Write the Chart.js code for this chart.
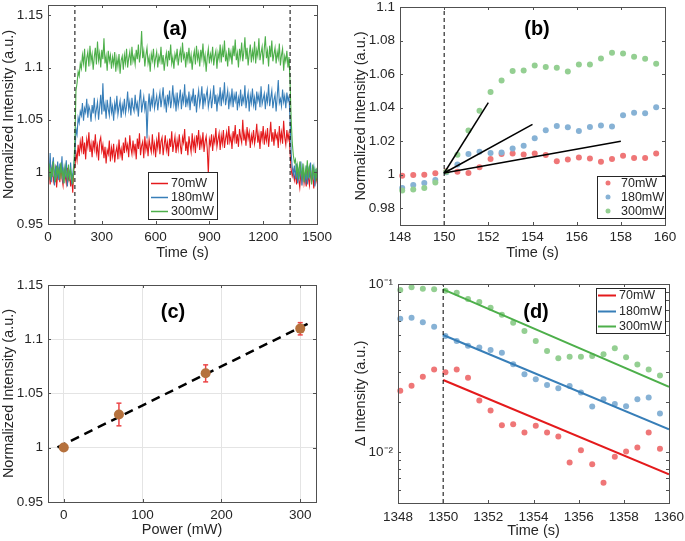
<!DOCTYPE html>
<html>
<head>
<meta charset="utf-8">
<script src="https://cdn.jsdelivr.net/npm/chart.js@4.4.1/dist/chart.umd.min.js"></script>
<style>
  html, body { margin: 0; padding: 0; background: #fff; }
  #figure { position: relative; width: 685px; height: 541px; overflow: hidden; background: #fff; }
  #figure canvas { position: absolute; }
</style>
</head>
<body>
<div id="figure">
  <canvas id="chartA" width="340" height="270" style="left:0;top:0"></canvas>
  <canvas id="chartB" width="345" height="270" style="left:340px;top:0"></canvas>
  <canvas id="chartC" width="340" height="271" style="left:0;top:270px"></canvas>
  <canvas id="chartD" width="345" height="271" style="left:340px;top:270px"></canvas>
</div>
<script>
// ---------- data ----------
const seriesNames = ["70mW", "180mW", "300mW"];

// (a) full traces, one sample every 6 s from 0 to 1500 s
const traceStep = 6;
const laserTimes = [150, 1350];
const trace70 = [
  0.992, 1.004, 0.988, 0.999, 1.006, 0.991, 0.996, 1.003, 0.985, 0.998,
  1.002, 0.990, 1.007, 0.994, 0.987, 1.001, 0.996, 0.989, 1.004, 0.993,
  0.999, 0.986, 0.995, 0.980, 1.003,
  1.004, 1.018, 1.011, 1.026, 1.015, 1.029,
  1.021, 1.034, 1.017, 1.028, 1.012, 1.031, 1.024, 1.038, 1.019, 1.027,
  1.014, 1.030, 1.022, 1.036, 1.018, 1.025, 1.011, 1.029, 1.033, 1.020,
  1.026, 1.013, 1.024, 1.008, 1.021, 1.017, 1.030, 1.010, 1.023, 1.015,
  1.027, 1.009, 1.019, 1.024, 1.012, 1.031, 1.016, 1.022, 1.011, 1.028,
  1.018, 1.033, 1.021, 1.026, 1.014, 1.035, 1.023, 1.017, 1.030, 1.019,
  1.027, 1.012, 1.032, 1.022, 1.037, 1.016, 1.025, 1.029, 1.013, 1.034,
  1.021, 1.028, 1.015, 1.031, 1.024, 1.019, 1.036, 1.020, 1.027, 1.014,
  1.030, 1.023, 1.038, 1.017, 1.029, 1.033, 1.016, 1.026, 1.035, 1.021,
  1.028, 1.015, 1.032, 1.024, 1.039, 1.019, 1.027, 1.034, 1.018, 1.030,
  1.022, 1.036, 1.025, 1.017, 1.033, 1.028, 1.041, 1.020, 1.029, 1.016,
  1.034, 1.026, 1.019, 1.037, 1.023, 1.031, 1.018, 1.035, 1.027, 1.040,
  1.021, 1.032, 1.025, 1.038, 1.019, 1.029, 1.034, 1.022, 0.998, 1.031,
  1.026, 1.036, 1.020, 1.033, 1.028, 1.042, 1.024, 1.031, 1.037, 1.021,
  1.035, 1.027, 1.040, 1.023, 1.032, 1.038, 1.026, 1.044, 1.029, 1.034,
  1.022, 1.039, 1.031, 1.045, 1.027, 1.036, 1.024, 1.041, 1.033, 1.028,
  1.050, 1.030, 1.037, 1.025, 1.043, 1.032, 1.038, 1.023, 1.035, 1.029,
  1.040, 1.027, 1.034, 1.046, 1.028, 1.036, 1.022, 1.039, 1.031, 1.044,
  1.026, 1.037, 1.030, 1.042, 1.024, 1.035, 1.048, 1.029, 1.038, 1.025,
  1.041, 1.032, 1.036, 1.023, 1.044, 1.030, 1.038, 1.027, 1.049, 1.033,
  1.026, 1.040, 1.031, 1.037,
  1.018, 1.002, 0.996, 1.001, 0.992,
  0.998, 0.988, 1.003, 0.993, 0.985, 0.999, 0.991, 1.004, 0.989, 0.996,
  0.986, 1.001, 0.994, 0.987, 1.002, 0.992, 0.997, 0.984, 1.000, 0.990,
  0.995
];
const trace180 = [
  1.012, 0.995, 1.018, 0.990, 1.006, 1.014, 0.987, 1.003, 0.996, 1.010,
  0.992, 1.008, 0.999, 1.015, 0.989, 1.004, 0.997, 1.011, 0.986, 1.002,
  0.994, 1.009, 0.991, 0.998, 1.007,
  1.015, 1.041, 1.036, 1.052, 1.047, 1.058,
  1.054, 1.066, 1.049, 1.061, 1.057, 1.070, 1.052, 1.063, 1.059, 1.048,
  1.064, 1.056, 1.071, 1.053, 1.060, 1.067, 1.050, 1.062, 1.074, 1.055,
  1.085, 1.058, 1.065, 1.051, 1.069, 1.060, 1.054, 1.072, 1.057, 1.063,
  1.049, 1.066, 1.059, 1.073, 1.055, 1.062, 1.068, 1.052, 1.064, 1.058,
  1.070, 1.056, 1.063, 1.077, 1.060, 1.067, 1.054, 1.071, 1.062, 1.058,
  1.074, 1.061, 1.066, 1.053, 1.069, 1.079, 1.057, 1.065, 1.072, 1.060,
  1.068, 1.032, 1.063, 1.075, 1.058, 1.070, 1.064, 1.080, 1.061, 1.067,
  1.073, 1.059, 1.069, 1.076, 1.062, 1.071, 1.081, 1.064, 1.070, 1.057,
  1.074, 1.066, 1.078, 1.061, 1.069, 1.083, 1.065, 1.072, 1.058, 1.076,
  1.063, 1.070, 1.079, 1.060, 1.073, 1.067, 1.084, 1.062, 1.071, 1.065,
  1.077, 1.059, 1.072, 1.068, 1.080, 1.063, 1.074, 1.057, 1.070, 1.078,
  1.064, 1.071, 1.082, 1.060, 1.075, 1.066, 1.073, 1.079, 1.062, 1.069,
  1.076, 1.061, 1.070, 1.083, 1.065, 1.074, 1.058, 1.072, 1.067, 1.081,
  1.063, 1.075, 1.069, 1.086, 1.064, 1.071, 1.078, 1.060, 1.073, 1.066,
  1.080, 1.062, 1.074, 1.068, 1.077, 1.059, 1.071, 1.065, 1.079, 1.063,
  1.072, 1.067, 1.083, 1.061, 1.070, 1.076, 1.058, 1.073, 1.066, 1.080,
  1.064, 1.071, 1.059, 1.077, 1.068, 1.074, 1.062, 1.082, 1.065, 1.070,
  1.075, 1.060, 1.073, 1.067, 1.084, 1.063, 1.071, 1.078, 1.061, 1.069,
  1.074, 1.058, 1.072, 1.088, 1.066, 1.070, 1.063, 1.079, 1.067, 1.073,
  1.061, 1.076, 1.068, 1.072,
  1.050, 1.018, 1.004, 0.997, 1.006,
  0.993, 1.008, 0.989, 1.001, 0.995, 1.010, 0.987, 1.004, 0.997, 0.991,
  1.006, 0.988, 1.002, 0.996, 1.009, 0.990, 0.999, 1.005, 0.986, 1.003,
  0.994
];
const trace300 = [
  0.998, 1.008, 0.992, 1.004, 0.995, 1.010, 0.999, 0.990, 1.006, 0.997,
  1.003, 0.993, 1.009, 0.996, 1.001, 0.989, 1.005, 0.998, 0.994, 1.007,
  0.991, 1.002, 0.996, 0.988, 1.004,
  1.030, 1.078, 1.085, 1.096, 1.092, 1.104,
  1.099, 1.112, 1.104, 1.118, 1.096, 1.109, 1.115, 1.101, 1.121, 1.106,
  1.113, 1.098, 1.110, 1.119, 1.103, 1.125, 1.107, 1.114, 1.100, 1.117,
  1.108, 1.128, 1.104, 1.111, 1.097, 1.116, 1.106, 1.112, 1.099, 1.110,
  1.103, 1.115, 1.096, 1.109, 1.101, 1.113, 1.094, 1.107, 1.111, 1.098,
  1.112, 1.104, 1.118, 1.100, 1.109, 1.115, 1.102, 1.120, 1.106, 1.111,
  1.103, 1.117, 1.108, 1.122, 1.105, 1.114, 1.135, 1.109, 1.116, 1.101,
  1.112, 1.119, 1.104, 1.110, 1.096, 1.113, 1.107, 1.118, 1.102, 1.109,
  1.115, 1.100, 1.111, 1.106, 1.120, 1.103, 1.112, 1.097, 1.108, 1.114,
  1.101, 1.116, 1.107, 1.122, 1.104, 1.110, 1.099, 1.113, 1.108, 1.118,
  1.102, 1.111, 1.117, 1.105, 1.124, 1.109, 1.113, 1.100, 1.115, 1.107,
  1.119, 1.104, 1.112, 1.098, 1.110, 1.116, 1.103, 1.121, 1.108, 1.114,
  1.101, 1.117, 1.109, 1.123, 1.105, 1.112, 1.096, 1.110, 1.118, 1.104,
  1.113, 1.107, 1.120, 1.102, 1.111, 1.116, 1.099, 1.114, 1.108, 1.122,
  1.105, 1.118, 1.110, 1.126, 1.106, 1.113, 1.101, 1.119, 1.109, 1.115,
  1.103, 1.121, 1.111, 1.127, 1.107, 1.114, 1.100, 1.118, 1.110, 1.124,
  1.106, 1.115, 1.129, 1.108, 1.119, 1.102, 1.113, 1.122, 1.105, 1.116,
  1.109, 1.125, 1.104, 1.117, 1.111, 1.128, 1.107, 1.114, 1.120, 1.103,
  1.118, 1.130, 1.109, 1.116, 1.101, 1.121, 1.110, 1.126, 1.106, 1.113,
  1.119, 1.104, 1.115, 1.109, 1.123, 1.102, 1.112, 1.118, 1.097, 1.111,
  1.106, 1.116, 1.100, 1.110,
  1.085, 1.050, 1.028, 1.016, 1.009,
  1.012, 0.998, 1.006, 0.993, 1.010, 1.001, 0.995, 1.008, 0.990, 1.003,
  0.997, 1.011, 0.994, 1.005, 0.999, 0.988, 1.007, 0.996, 1.002, 0.991,
  1.004
];

// (b) rise right after switching on
const riseTime = [148.1, 148.6, 149.1, 149.6, 150.1, 150.6, 151.1, 151.6, 152.1, 152.6, 153.1, 153.6,
                  154.1, 154.6, 155.1, 155.6, 156.1, 156.6, 157.1, 157.6, 158.1, 158.6, 159.1, 159.6];
const rise70 = [0.9994, 0.9998, 1.0000, 1.0008, 1.0020, 1.0018, 1.0010, 1.0044, 1.0093, 1.0123, 1.0127, 1.0120,
                1.0127, 1.0117, 1.0080, 1.0090, 1.0103, 1.0097, 1.0077, 1.0093, 1.0113, 1.0100, 1.0100, 1.0127];
const rise180 = [0.9920, 0.9939, 0.9950, 0.9968, 1.0014, 1.0061, 1.0123, 1.0137, 1.0130, 1.0133, 1.0156, 1.0172,
                 1.0218, 1.0265, 1.0291, 1.0283, 1.0261, 1.0285, 1.0293, 1.0287, 1.0354, 1.0370, 1.0366, 1.0402];
const rise300 = [0.9905, 0.9911, 0.9920, 0.9953, 1.0018, 1.0119, 1.0263, 1.0382, 1.0493, 1.0562, 1.0618, 1.0622,
                 1.0651, 1.0642, 1.0638, 1.0616, 1.0657, 1.0657, 1.0693, 1.0727, 1.0723, 1.0703, 1.0691, 1.0661];
const slopeFrom = { x: 150, y: 1.001 };
const slopeToX = [152, 154, 158];
const slopeToY = [1.043, 1.030, 1.020];

// (c) plateau level against power
const powerMw = [0, 70, 180, 300];
const plateauMean = [1.0003, 1.0307, 1.0687, 1.1098];
const plateauLow = [null, 1.0202, 1.0607, 1.1040];
const plateauHigh = [null, 1.0411, 1.0764, 1.1153];
const powerFitX = [-8, 315];
const powerFitY = [1.0003, 1.1163];

// (d) decay after switching off
const decayTime = [1348.1, 1348.6, 1349.1, 1349.6, 1350.1, 1350.6, 1351.1, 1351.6, 1352.1, 1352.6, 1353.1, 1353.6,
                   1354.1, 1354.6, 1355.1, 1355.6, 1356.1, 1356.6, 1357.1, 1357.6, 1358.1, 1358.6, 1359.1, 1359.6];
const decay70 = [0.0232, 0.0249, 0.0281, 0.0311, 0.0299, 0.0311, 0.0277, 0.0203, 0.0177, 0.0145, 0.0147, 0.0131,
                 0.0144, 0.0131, 0.0124, 0.0087, 0.0103, 0.0085, 0.0066, 0.0094, 0.0101, 0.0107, 0.0131, 0.0105];
const decay180 = [0.0622, 0.0631, 0.0592, 0.0557, 0.0491, 0.0458, 0.0430, 0.0420, 0.0405, 0.0390, 0.0334, 0.0291,
                  0.0272, 0.0251, 0.0240, 0.0248, 0.0227, 0.0187, 0.0207, 0.0194, 0.0188, 0.0207, 0.0212, 0.0170];
const decay300 = [0.0921, 0.0956, 0.0938, 0.0930, 0.0912, 0.0888, 0.0814, 0.0782, 0.0723, 0.0657, 0.0589, 0.0526,
                  0.0458, 0.0400, 0.0362, 0.0370, 0.0370, 0.0373, 0.0383, 0.0415, 0.0367, 0.0332, 0.0311, 0.0286];
const decayFitX = [1350, 1360];
const decayFit70 = [0.0269, 0.0074];
const decayFit180 = [0.0498, 0.0137];
const decayFit300 = [0.0930, 0.0245];

// axes
const ticksAX = [0, 300, 600, 900, 1200, 1500];
const ticksAY = [0.95, 1, 1.05, 1.1, 1.15];
const ticksBX = [148, 150, 152, 154, 156, 158, 160];
const ticksBY = [0.98, 1, 1.02, 1.04, 1.06, 1.08, 1.1];
const ticksCX = [0, 100, 200, 300];
const ticksCY = [0.95, 1, 1.05, 1.1, 1.15];
const ticksDX = [1348, 1350, 1352, 1354, 1356, 1358, 1360];
const ticksDY = [0.005, 0.006, 0.007, 0.008, 0.009, 0.01, 0.02, 0.03, 0.04, 0.05, 0.06, 0.07, 0.08, 0.09, 0.1];
const labelsDY = { "0.01": "10⁻²", "0.1": "10⁻¹" };

// ---------- styling ----------
const FONT = "'Liberation Sans', Arial, Helvetica, sans-serif";
const INK = "#262626";
const lineColors = ["#e41a1c", "#377eb8", "#4daf4a"];
const dotColors = ["rgb(239,118,119)", "rgb(135,178,213)", "rgb(148,207,146)"];

Chart.defaults.font.family = FONT;
Chart.defaults.color = INK;
Chart.defaults.animation = false;

function fmt(v) {
    return String(Number(Number(v).toFixed(4)));
}

function axis(o) {
    return {
        type: o.type || "linear",
        min: o.min,
        max: o.max,
        afterBuildTicks: scale => { scale.ticks = o.ticks.map(v => ({ value: v })); },
        afterFit: scale => {
            // keep the plot box where the layout puts it, labels may overhang
            scale.paddingTop = 0;
            scale.paddingBottom = 0;
            scale.paddingLeft = 0;
            scale.paddingRight = 0;
            if (scale.isHorizontal()) scale.height = o.size;
            else scale.width = o.size;
        },
        grid: { display: !!o.grid, color: "#e4e4e4", lineWidth: 1, drawTicks: false },
        border: { display: false },
        ticks: {
            padding: o.pad,
            autoSkip: false,
            maxRotation: 0,
            color: INK,
            font: { size: 13.5 },
            callback: o.format || (v => fmt(v)),
        },
        title: {
            display: true,
            text: o.title,
            color: INK,
            font: { size: 14.5 },
            padding: o.titlePad,
        },
    };
}

// box with inward ticks on all four sides
const matlabBox = {
    id: "matlabBox",
    afterDatasetsDraw(chart) {
        const { ctx, chartArea: { left, right, top, bottom } } = chart;
        const xs = chart.scales.x, ys = chart.scales.y;
        const len = 3;
        ctx.save();
        ctx.strokeStyle = "#505050";
        ctx.lineWidth = 1;
        ctx.beginPath();
        for (const t of xs.ticks) {
            const px = Math.round(xs.getPixelForValue(t.value)) + 0.5;
            ctx.moveTo(px, bottom); ctx.lineTo(px, bottom - len);
            ctx.moveTo(px, top); ctx.lineTo(px, top + len);
        }
        for (const t of ys.ticks) {
            const py = Math.round(ys.getPixelForValue(t.value)) + 0.5;
            ctx.moveTo(left, py); ctx.lineTo(left + len, py);
            ctx.moveTo(right, py); ctx.lineTo(right - len, py);
        }
        ctx.stroke();
        ctx.strokeRect(Math.round(left) + 0.5, Math.round(top) + 0.5, Math.round(right - left), Math.round(bottom - top));
        ctx.restore();
    },
};

// panel letter and boxed legend inside the plot
const panelDecor = {
    id: "panelDecor",
    afterDraw(chart, args, opts) {
        const ctx = chart.ctx;
        ctx.save();
        ctx.font = "bold 20px " + FONT;
        ctx.fillStyle = "#000";
        ctx.textAlign = "center";
        ctx.textBaseline = "middle";
        ctx.fillText(opts.tag, opts.tagX, opts.tagY);

        const L = opts.legend;
        if (L) {
            ctx.fillStyle = "#fff";
            ctx.fillRect(L.x, L.y, L.w, L.h);
            ctx.strokeStyle = INK;
            ctx.lineWidth = 1;
            ctx.strokeRect(L.x + 0.5, L.y + 0.5, L.w, L.h);
            ctx.font = "12.5px " + FONT;
            ctx.textAlign = "left";
            seriesNames.forEach((name, i) => {
                const y = L.rows[i];
                if (L.kind === "dot") {
                    ctx.fillStyle = dotColors[i];
                    ctx.beginPath();
                    ctx.arc(L.markX, y, 2.5, 0, Math.PI * 2);
                    ctx.fill();
                } else {
                    ctx.strokeStyle = lineColors[i];
                    ctx.lineWidth = L.lineW;
                    ctx.beginPath();
                    ctx.moveTo(L.markX, y + 0.5);
                    ctx.lineTo(L.markX2, y + 0.5);
                    ctx.stroke();
                }
                ctx.fillStyle = INK;
                ctx.fillText(name, L.textX, y + 0.5);
            });
        }
        ctx.restore();
    },
};

function points(xs, ys) {
    return xs.map((x, i) => ({ x: x, y: ys[i] }));
}

function vline(x, y0, y1) {
    return {
        type: "line",
        data: [{ x: x, y: y0 }, { x: x, y: y1 }],
        borderColor: "#000",
        borderWidth: 1,
        borderDash: [4, 3],
        pointRadius: 0,
    };
}

function dots(xs, ys, i) {
    return {
        type: "scatter",
        data: points(xs, ys),
        pointRadius: 3,
        pointBorderWidth: 0,
        pointBackgroundColor: dotColors[i],
        clip: 6,
    };
}

function baseOptions(pad) {
    return {
        responsive: false,
        animation: false,
        layout: { padding: pad },
    };
}

// ---------- (a) ----------
const traces = [trace70, trace180, trace300];
const traceSets = traces.map((arr, i) => ({
    type: "line",
    data: arr.map((v, k) => ({ x: k * traceStep, y: v })),
    borderColor: lineColors[i],
    borderWidth: 1.1,
    pointRadius: 0,
})).reverse();

new Chart(document.getElementById("chartA"), {
    type: "scatter",
    data: {
        datasets: [
            vline(laserTimes[0], 0.95, 1.16),
            vline(laserTimes[1], 0.95, 1.16),
            ...traceSets,
        ],
    },
    options: {
        ...baseOptions({ top: 5, right: 23, left: 0, bottom: 0 }),
        scales: {
            x: axis({ min: 0, max: 1500, ticks: ticksAX, size: 46, pad: 5, title: "Time (s)", titlePad: { top: 0, bottom: 8.5 } }),
            y: axis({ min: 0.95, max: 1.16, ticks: ticksAY, size: 48, pad: 5, title: "Normalized Intensity (a.u.)", titlePad: { top: 0, bottom: 0 } }),
        },
        plugins: {
            legend: { display: false },
            tooltip: { enabled: false },
            panelDecor: {
                tag: "(a)", tagX: 175, tagY: 29,
                legend: { x: 148, y: 172, w: 69, h: 47, rows: [183, 197, 211], kind: "line", lineW: 1.5, markX: 151, markX2: 168, textX: 171 },
            },
        },
    },
    plugins: [matlabBox, panelDecor],
});

// ---------- (b) ----------
const slopeSets = slopeToX.map((x, i) => ({
    type: "line",
    data: [{ x: slopeFrom.x, y: slopeFrom.y }, { x: x, y: slopeToY[i] }],
    borderColor: "#000",
    borderWidth: 1.5,
    pointRadius: 0,
}));

new Chart(document.getElementById("chartB"), {
    type: "scatter",
    data: {
        datasets: [
            ...slopeSets,
            vline(laserTimes[0], 0.97, 1.1),
            dots(riseTime, rise300, 2),
            dots(riseTime, rise180, 1),
            dots(riseTime, rise70, 0),
        ],
    },
    options: {
        ...baseOptions({ top: 7, right: 20, left: 0, bottom: 0 }),
        scales: {
            x: axis({ min: 148, max: 160, ticks: ticksBX, size: 45, pad: 4, title: "Time (s)", titlePad: { top: 0, bottom: 8 } }),
            y: axis({ min: 0.97, max: 1.1, ticks: ticksBY, size: 60, pad: 5, title: "Normalized Intensity (a.u.)", titlePad: { top: 12.5, bottom: 0 } }),
        },
        plugins: {
            legend: { display: false },
            tooltip: { enabled: false },
            panelDecor: {
                tag: "(b)", tagX: 197, tagY: 29,
                legend: { x: 257, y: 176, w: 68, h: 42, rows: [183, 197, 211], kind: "dot", markX: 268, textX: 281 },
            },
        },
    },
    plugins: [matlabBox, panelDecor],
});

// ---------- (c) ----------
const errorData = [];
powerMw.forEach((p, i) => {
    if (plateauLow[i] === null) return;
    errorData.push({ x: p, y: plateauLow[i] }, { x: p, y: plateauHigh[i] }, { x: p, y: null });
});

new Chart(document.getElementById("chartC"), {
    type: "scatter",
    data: {
        datasets: [
            {
                type: "scatter",
                data: points(powerMw, plateauMean),
                pointRadius: 5,
                pointBorderWidth: 0,
                pointBackgroundColor: "#b5713d",
            },
            {
                type: "line",
                data: errorData,
                borderColor: "#ec4446",
                borderWidth: 1.5,
                spanGaps: false,
                pointStyle: "line",
                pointRadius: 2.5,
                pointBorderColor: "#ec4446",
                pointBorderWidth: 1.5,
            },
            {
                type: "line",
                data: points(powerFitX, powerFitY),
                borderColor: "#000",
                borderWidth: 2.5,
                borderDash: [9, 6],
                pointRadius: 0,
            },
        ],
    },
    options: {
        ...baseOptions({ top: 15, right: 24, left: 0, bottom: 0 }),
        scales: {
            x: axis({ min: -20, max: 320, ticks: ticksCX, size: 39, pad: 5, grid: true, title: "Power (mW)", titlePad: { top: 0, bottom: 2 } }),
            y: axis({ min: 0.95, max: 1.15, ticks: ticksCY, size: 48, pad: 5, grid: true, title: "Normalized Intensity (a.u.)", titlePad: { top: 0, bottom: 0 } }),
        },
        plugins: {
            legend: { display: false },
            tooltip: { enabled: false },
            panelDecor: { tag: "(c)", tagX: 173, tagY: 42 },
        },
    },
    plugins: [matlabBox, panelDecor],
});

// ---------- (d) ----------
const decayFits = [decayFit70, decayFit180, decayFit300];
const decayLines = decayFits.map((ys, i) => ({
    type: "line",
    data: points(decayFitX, ys),
    borderColor: lineColors[i],
    borderWidth: 2,
    pointRadius: 0,
})).reverse();

new Chart(document.getElementById("chartD"), {
    type: "scatter",
    data: {
        datasets: [
            vline(laserTimes[1], 0.005, 0.1),
            ...decayLines,
            dots(decayTime, decay300, 2),
            dots(decayTime, decay180, 1),
            dots(decayTime, decay70, 0),
        ],
    },
    options: {
        ...baseOptions({ top: 14, right: 16, left: 0, bottom: 0 }),
        scales: {
            x: axis({ min: 1348, max: 1360, ticks: ticksDX, size: 38, pad: 6, title: "Time (s)", titlePad: { top: 0, bottom: 1 } }),
            y: axis({
                type: "logarithmic", min: 0.005, max: 0.1, ticks: ticksDY, size: 58, pad: 5,
                title: "Δ Intensity (a.u.)", titlePad: { top: 12.5, bottom: 0 },
                format: v => labelsDY[String(v)] || "",
            }),
        },
        plugins: {
            legend: { display: false },
            tooltip: { enabled: false },
            panelDecor: {
                tag: "(d)", tagX: 196, tagY: 42,
                legend: { x: 256, y: 18, w: 69, h: 45, rows: [25, 41, 56], kind: "line", lineW: 2, markX: 258, markX2: 276, textX: 279 },
            },
        },
    },
    plugins: [matlabBox, panelDecor],
});
</script>
</body>
</html>
